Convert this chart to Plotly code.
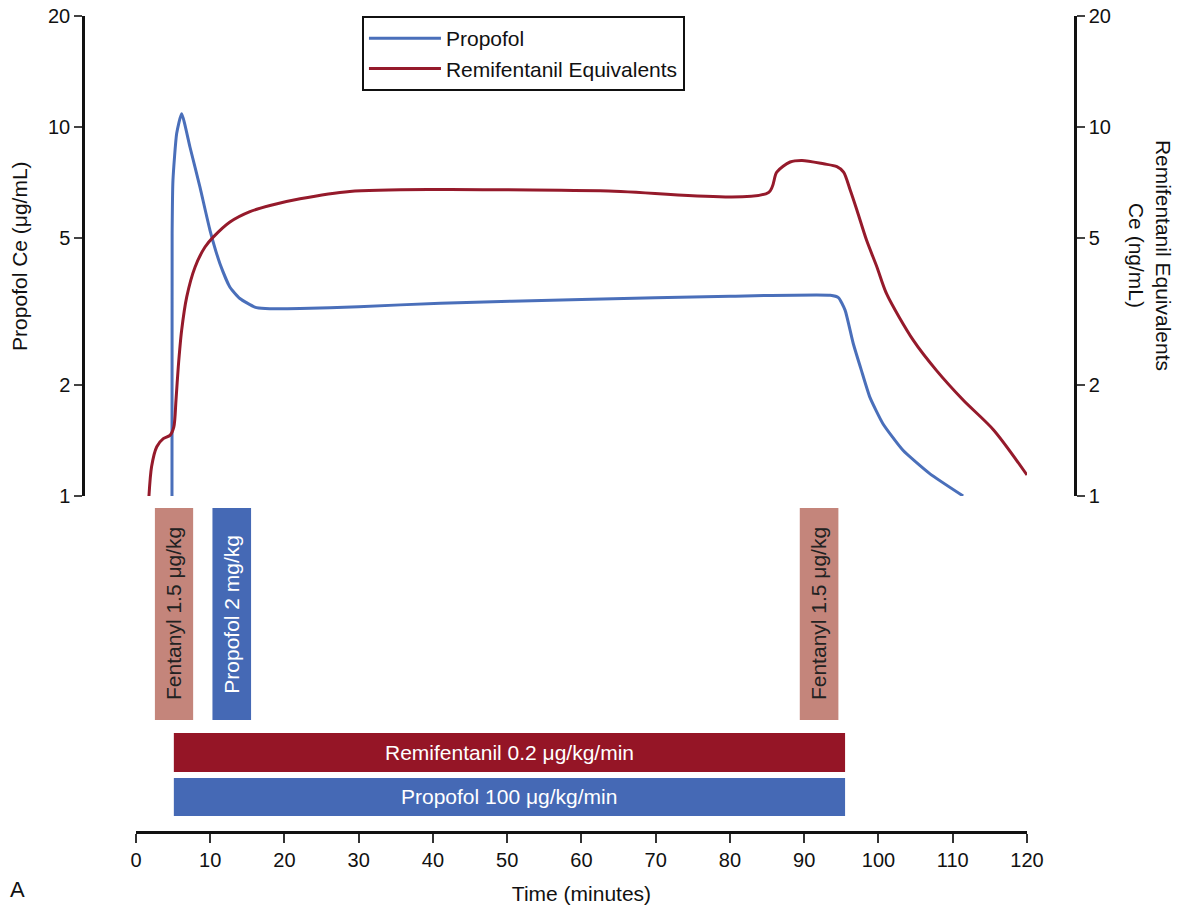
import plotly.graph_objects as go

# ---------------- data ----------------
t_propofol = [4.85, 4.87, 4.98, 5.48, 6.15, 7.27, 8.62, 9.97, 11.3, 12.66, 14.0, 16.0, 17.4,
              22.1, 30, 41, 60, 80, 93.5, 94.6, 95.5, 96.6, 97.7, 98.85, 100.6, 103.3, 106.9, 111.4]
ce_propofol = [1.0, 5.15, 7.17, 9.6, 10.87, 8.83, 6.87, 5.25, 4.27, 3.68, 3.43, 3.25, 3.22,
               3.22, 3.26, 3.33, 3.41, 3.48, 3.5, 3.45, 3.19, 2.59, 2.19, 1.85, 1.57, 1.33, 1.15, 1.0]

t_remi = [1.75, 2.1, 2.8, 3.68, 4.58, 5.1, 5.39, 5.7, 6.15, 6.83, 7.95, 9.3, 10.4, 12.66, 15.35,
          18.05, 22.1, 28.8, 40.9, 62.5, 85.2, 86.3, 88.1, 89.7, 92.6, 94.4, 95.3, 96.2, 97.1,
          98.4, 99.8, 101.1, 104.7, 107.8, 111.4, 115.5, 120.0]
ce_remi = [1.0, 1.2, 1.36, 1.43, 1.46, 1.54, 1.82, 2.24, 2.81, 3.46, 4.17, 4.73, 5.03, 5.53, 5.9,
           6.13, 6.39, 6.69, 6.77, 6.72, 6.65, 7.55, 8.04, 8.12, 7.95, 7.81, 7.55, 6.74, 5.95,
           4.93, 4.17, 3.53, 2.64, 2.19, 1.82, 1.51, 1.14]

bolus_labels = ["Fentanyl 1.5 μg/kg", "Propofol 2 mg/kg", "Fentanyl 1.5 μg/kg"]
bolus_start = [2.55, 10.3, 89.4]
bolus_end = [7.7, 15.5, 94.6]

infusion_labels = ["Remifentanil 0.2 μg/kg/min", "Propofol 100 μg/kg/min"]
infusion_start = [5.1, 5.1]
infusion_end = [95.5, 95.5]

y_ticks = [1, 2, 5, 10, 20]
x_ticks = list(range(0, 121, 10))

# ---------------- styles ----------------
BLUE_LINE = "#4A6FBA"
RED_LINE = "#951A2B"
FENT_BOX = "#C4857B"
PROP_BOX = "#4569B5"
REMI_BAR = "#951526"
FONT = "Liberation Sans, Arial, sans-serif"
TXT = "#111111"

bolus_colors = [FENT_BOX, PROP_BOX, FENT_BOX]
bolus_text_colors = ["#222222", "white", "#222222"]
infusion_colors = [REMI_BAR, PROP_BOX]

# layout rows for bar area (y3 units = px above x-axis line)
BOLUS_Y, BOLUS_H = 218, 212
INF_Y = [79.5, 35]
INF_H = [39, 38]

fig = go.Figure()

fig.add_trace(go.Scatter(x=t_propofol, y=ce_propofol, mode="lines", name="Propofol",
                         line=dict(color=BLUE_LINE, width=3, shape="spline", smoothing=0.5),
                         xaxis="x", yaxis="y"))
fig.add_trace(go.Scatter(x=t_remi, y=ce_remi, mode="lines", name="Remifentanil Equivalents",
                         line=dict(color=RED_LINE, width=3, shape="spline", smoothing=0.8),
                         xaxis="x", yaxis="y2"))

annotations = []
for lab, s, e, c, tc in zip(bolus_labels, bolus_start, bolus_end, bolus_colors, bolus_text_colors):
    fig.add_trace(go.Bar(orientation="h", y=[BOLUS_Y], x=[e - s], base=[s], width=[BOLUS_H],
                         marker=dict(color=c, line=dict(width=0)), showlegend=False,
                         hoverinfo="skip", xaxis="x", yaxis="y3"))
    annotations.append(dict(x=(s + e) / 2, y=BOLUS_Y, xref="x", yref="y3", text=lab,
                            textangle=-90, showarrow=False,
                            font=dict(family=FONT, size=21, color=tc)))
for lab, s, e, c, yy, hh in zip(infusion_labels, infusion_start, infusion_end, infusion_colors, INF_Y, INF_H):
    fig.add_trace(go.Bar(orientation="h", y=[yy], x=[e - s], base=[s], width=[hh],
                         marker=dict(color=c, line=dict(width=0)), showlegend=False,
                         hoverinfo="skip", xaxis="x", yaxis="y3"))
    annotations.append(dict(x=(s + e) / 2, y=yy, xref="x", yref="y3", text=lab,
                            showarrow=False, font=dict(family=FONT, size=21, color="white")))

annotations += [
    dict(x=-0.0635, y=0.706, xref="paper", yref="paper", text="Propofol Ce (μg/mL)",
         xanchor="center", yanchor="middle",
         textangle=-90, showarrow=False, font=dict(family=FONT, size=21, color=TXT)),
    dict(x=1.0756, y=0.706, xref="paper", yref="paper",
         text="Remifentanil Equivalents<br>Ce (ng/mL)", xanchor="center", yanchor="middle",
         textangle=90, showarrow=False, font=dict(family=FONT, size=21, color=TXT)),
    dict(x=-0.0756, y=-0.071, xref="paper", yref="paper", text="A", xanchor="left",
         yanchor="middle", showarrow=False, font=dict(family=FONT, size=22, color=TXT)),
]

TOP_DOMAIN = [0.4118, 1.0]
yax_common = dict(type="log", range=[0, 1.30103], tickvals=y_ticks, ticktext=[str(v) for v in y_ticks],
                  showgrid=False, zeroline=False, showline=True, linecolor=TXT, linewidth=2.5,
                  ticks="outside", ticklen=8, tickwidth=2, tickcolor="#444", automargin=False,
                  ticklabeloverflow="allow",
                  tickfont=dict(family=FONT, size=20, color=TXT))

fig.update_layout(
    width=1182, height=911,
    margin=dict(l=83, r=107, t=16, b=79, autoexpand=False),
    plot_bgcolor="white", paper_bgcolor="white",
    barmode="overlay",
    xaxis=dict(domain=[0.0534, 0.9516], range=[0, 120], tickvals=x_ticks,
               anchor="free", position=0, automargin=False, ticklabeloverflow="allow",
               showgrid=False, zeroline=False, showline=True, linecolor=TXT, linewidth=3,
               ticks="outside", ticklen=9, tickwidth=1.5, tickcolor="#333",
               tickfont=dict(family=FONT, size=20, color=TXT),
               title=dict(text="Time (minutes)", font=dict(family=FONT, size=21, color=TXT),
                          standoff=16)),
    yaxis=dict(domain=TOP_DOMAIN, anchor="free", position=0, side="left", **yax_common),
    yaxis2=dict(overlaying="y", anchor="free", position=1, side="right", **yax_common),
    yaxis3=dict(domain=[0, 0.4069], range=[0, 332], visible=False, anchor="x", automargin=False),
    legend=dict(x=0.2812, y=1.0, xanchor="left", yanchor="top",
                bordercolor=TXT, borderwidth=2, bgcolor="white",
                font=dict(family=FONT, size=21, color=TXT),
                itemwidth=72, tracegroupgap=4),
    annotations=annotations,
    showlegend=True,
)

# remove the browser's default 8px page margin so the figure fills the window exactly
fig.write_html("out.html", config={"displayModeBar": False},
               post_script="document.body.style.margin='0';document.body.style.overflow='hidden';")
